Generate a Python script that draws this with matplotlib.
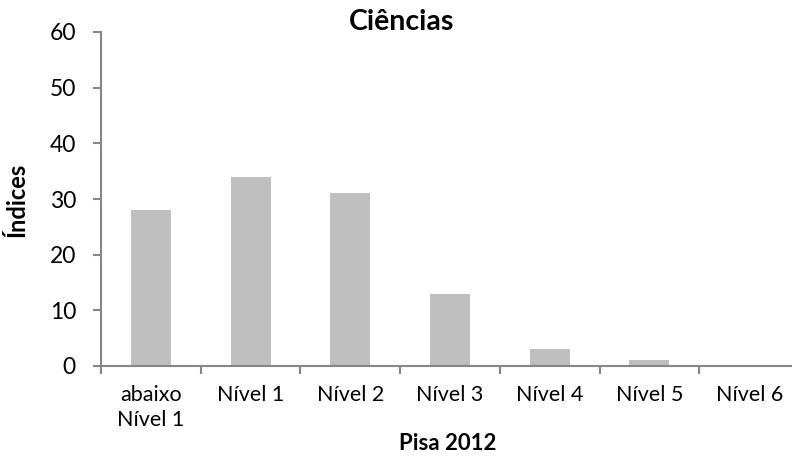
import numpy as np
import matplotlib.pyplot as plt

# Pisa 2012 - Ciências, distribuição por nível
niveis = ['abaixo\nNível 1', 'Nível 1', 'Nível 2', 'Nível 3', 'Nível 4', 'Nível 5', 'Nível 6']
indices = [28, 34, 31, 13, 3, 1, 0]

plt.rcParams['font.family'] = ['Lato', 'DejaVu Sans']

BAR = '#bfbfbf'
AXIS = '#868686'

fig = plt.figure(figsize=(7.92, 4.57), dpi=100)
W, H = 792, 457
# área de plotagem em pixels: x 101..799, y 32..366
ax = fig.add_axes([101 / W, 1 - 366 / H, 698 / W, 334 / H])

x = np.arange(len(niveis))
ax.bar(x, indices, width=0.4, color=BAR, zorder=2)

ax.set_xlim(-0.5, len(niveis) - 0.5)
ax.set_ylim(0, 60)
ax.set_yticks(range(0, 61, 10))

# ticks nas divisões, rótulos no centro das categorias
ax.set_xticks(np.arange(-0.5, len(niveis), 1.0))
ax.set_xticklabels([])
ax.set_xticks(x, minor=True)
ax.set_xticklabels(niveis, minor=True, fontsize=15.5, linespacing=1.3)
ax.tick_params(axis='x', which='minor', length=0, pad=14)
ax.tick_params(axis='x', which='major', length=6, width=1.5, color=AXIS)
ax.tick_params(axis='y', length=6, width=1.5, color=AXIS, labelsize=16.5, pad=12)

for s in ['top', 'right']:
    ax.spines[s].set_visible(False)
for s in ['left', 'bottom']:
    ax.spines[s].set_color(AXIS)
    ax.spines[s].set_linewidth(1.5)

fig.text(402 / W, 1 - 22 / H, 'Ciências', ha='center', va='center',
         fontsize=20.5, fontweight='bold')
fig.text(17 / W, 1 - 200 / H, 'Índices', ha='center', va='center',
         rotation=90, fontsize=17, fontweight='bold')
fig.text(448 / W, 1 - 443 / H, 'Pisa 2012', ha='center', va='center',
         fontsize=16, fontweight='bold')

fig.savefig('out.png', dpi=100)
